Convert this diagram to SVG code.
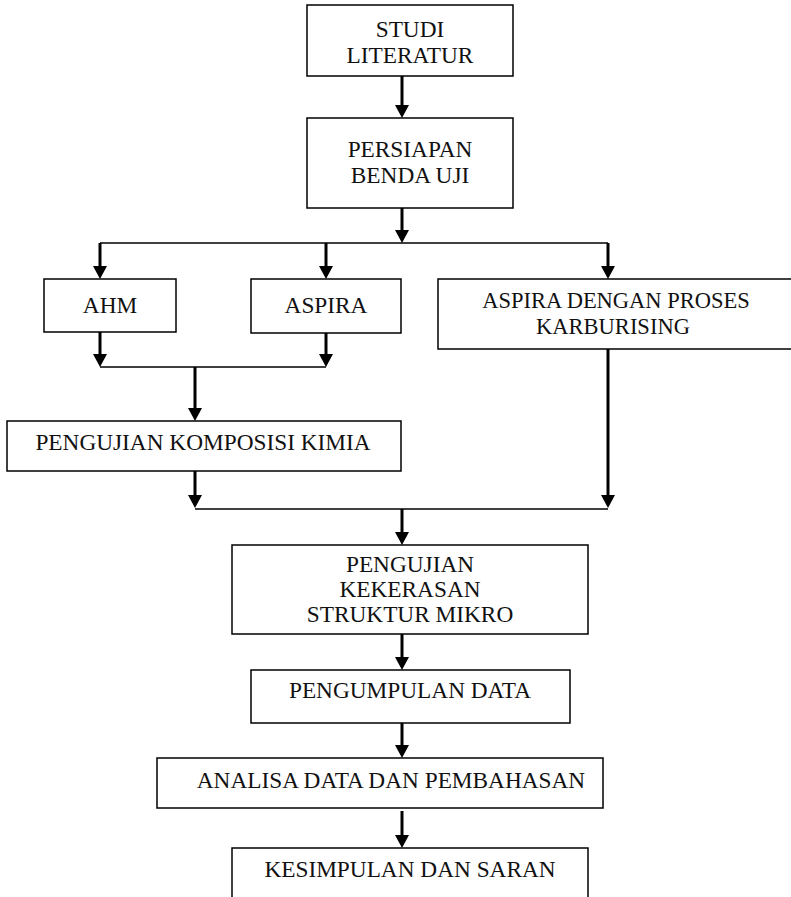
<svg xmlns="http://www.w3.org/2000/svg" width="791" height="897" viewBox="0 0 791 897">
<style>
.box{fill:#fff;stroke:#000;stroke-width:1.5}
.t{font-family:"Liberation Serif","Times New Roman",serif;font-size:23.3px;fill:#111;text-anchor:middle}
.s{font-size:22.5px}
.ln{fill:none;stroke:#000;stroke-width:1.6}
.ar{fill:none;stroke:#000;stroke-width:3;marker-end:url(#ah)}
</style>
<defs>
<marker id="ah" markerUnits="userSpaceOnUse" markerWidth="13" markerHeight="14" viewBox="0 0 13 14" refX="3" refY="7" orient="auto">
<path d="M0,0 L13,7 L0,14 z" fill="#000"/>
</marker>
</defs>
<rect width="791" height="897" fill="#fff"/>
<g id="connectors">
<path class="ar" d="M402,76 V108"/>
<path class="ar" d="M402,208 V233"/>
<path class="ln" d="M100,243 H608"/>
<path class="ar" d="M100,243 V269"/>
<path class="ar" d="M326,243 V269"/>
<path class="ar" d="M608,243 V269"/>
<path class="ar" d="M100,332 V357"/>
<path class="ar" d="M326,333 V357"/>
<path class="ln" d="M100,367 H326"/>
<path class="ar" d="M195,367 V411"/>
<path class="ar" d="M195,471 V498"/>
<path class="ar" d="M608,349 V498"/>
<path class="ln" d="M195,509 H608"/>
<path class="ar" d="M402,509 V535"/>
<path class="ar" d="M402,634 V660"/>
<path class="ar" d="M402,723 V748"/>
<path class="ar" d="M402,811 V838"/>
</g>
<g id="studi">
<rect class="box" x="307" y="5" width="206" height="71"/>
<text class="t" x="410" y="37">STUDI</text>
<text class="t" x="410" y="63">LITERATUR</text>
</g>
<g id="persiapan">
<rect class="box" x="307" y="118" width="206" height="90"/>
<text class="t" x="410" y="157">PERSIAPAN</text>
<text class="t" x="410" y="183">BENDA UJI</text>
</g>
<g id="ahm">
<rect class="box" x="44" y="279" width="132" height="53"/>
<text class="t" x="110" y="313">AHM</text>
</g>
<g id="aspira">
<rect class="box" x="251" y="279" width="150" height="54"/>
<text class="t" x="326" y="313">ASPIRA</text>
</g>
<g id="aspira-karburising">
<rect class="box" x="438" y="279" width="360" height="70"/>
<text class="t s" x="616" y="308">ASPIRA DENGAN PROSES</text>
<text class="t s" x="613" y="334">KARBURISING</text>
</g>
<g id="komposisi">
<rect class="box" x="7" y="421" width="394" height="50"/>
<text class="t" x="203" y="450">PENGUJIAN KOMPOSISI KIMIA</text>
</g>
<g id="kekerasan">
<rect class="box" x="232" y="545" width="356" height="89"/>
<text class="t" x="410" y="572">PENGUJIAN</text>
<text class="t" x="410" y="597">KEKERASAN</text>
<text class="t" x="410" y="622">STRUKTUR MIKRO</text>
</g>
<g id="pengumpulan">
<rect class="box" x="251" y="670" width="319" height="53"/>
<text class="t" x="410" y="698">PENGUMPULAN DATA</text>
</g>
<g id="analisa">
<rect class="box" x="157" y="758" width="446" height="50"/>
<text class="t" x="391" y="788">ANALISA DATA DAN PEMBAHASAN</text>
</g>
<g id="kesimpulan">
<rect class="box" x="232" y="848" width="356" height="60"/>
<text class="t" x="410" y="877">KESIMPULAN DAN SARAN</text>
</g>
</svg>
